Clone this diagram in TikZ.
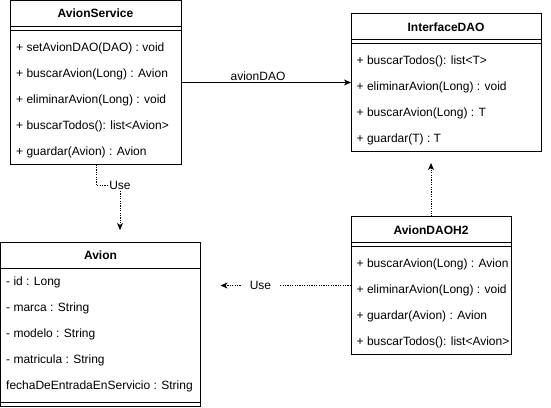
\documentclass[tikz,border=0pt]{standalone}
\usepackage{fontspec}
\setmainfont{Liberation Sans}
\usetikzlibrary{arrows.meta}
\begin{document}
\begin{tikzpicture}[x=1pt,y=-1pt,
  font=\fontsize{12}{14}\selectfont,
  classbox/.style={draw, line width=1pt, fill=white, inner sep=0pt, outer sep=0pt, anchor=north west},
  classtitle/.style={font=\fontsize{12}{14}\selectfont\bfseries, anchor=base, inner sep=0pt},
  member/.style={anchor=base west, inner sep=0pt},
  sepline/.style={line width=1pt},
  tip/.style={-{Stealth[length=7pt,width=6pt,inset=2pt]}},
  assoc/.style={line width=1pt, tip},
  dep/.style={line width=1pt, dash pattern=on 1.2pt off 1.2pt, tip},
  lbl/.style={fill=white, inner sep=1pt, anchor=center}]
\useasboundingbox (0,0) rectangle (551,407);

% ---------- AvionService ----------
\node[classbox, minimum width=171pt, minimum height=164pt] (svc) at (10.5,0.5) {};
\node[classtitle] (svcT) at (95.5,17.5) {AvionService};
\draw[sepline] ([yshift=-26pt]svc.north west) -- ([yshift=-26pt]svc.north east);
\draw[sepline] ([yshift=-30pt]svc.north west) -- ([yshift=-30pt]svc.north east);
\node[member] (svc1) at (16,51) {+ setAvionDAO(DAO) : void};
\node[member] (svc2) at (16,77) {+ buscarAvion(Long) : Avion};
\node[member] (svc3) at (16,103) {+ eliminarAvion(Long) : void};
\node[member] (svc4) at (16,129) {+ buscarTodos(): list<Avion>};
\node[member] (svc5) at (16,155) {+ guardar(Avion) : Avion};

% ---------- InterfaceDAO ----------
\node[classbox, minimum width=190pt, minimum height=138pt] (iface) at (351,13.5) {};
\node[classtitle] (ifaceT) at (446,31) {InterfaceDAO};
\draw[sepline] ([yshift=-26pt]iface.north west) -- ([yshift=-26pt]iface.north east);
\draw[sepline] ([yshift=-30pt]iface.north west) -- ([yshift=-30pt]iface.north east);
\node[member] (if1) at (356.5,64.5) {+ buscarTodos(): list<T>};
\node[member] (if2) at (356.5,90.5) {+ eliminarAvion(Long) : void};
\node[member] (if3) at (356.5,116.5) {+ buscarAvion(Long) : T};
\node[member] (if4) at (356.5,142.5) {+ guardar(T) : T};

% ---------- AvionDAOH2 ----------
\node[classbox, minimum width=160pt, minimum height=138pt] (dao) at (351,216.5) {};
\node[classtitle] (daoT) at (431,234) {AvionDAOH2};
\draw[sepline] ([yshift=-26pt]dao.north west) -- ([yshift=-26pt]dao.north east);
\draw[sepline] ([yshift=-30pt]dao.north west) -- ([yshift=-30pt]dao.north east);
\node[member] (dao1) at (356.5,267.5) {+ buscarAvion(Long) : Avion};
\node[member] (dao2) at (356.5,293.5) {+ eliminarAvion(Long) : void};
\node[member] (dao3) at (356.5,319.5) {+ guardar(Avion) : Avion};
\node[member] (dao4) at (356.5,345.5) {+ buscarTodos(): list<Avion>};

% ---------- Avion ----------
\node[classbox, minimum width=200pt, minimum height=164pt] (avion) at (0.5,242.5) {};
\node[classtitle] (avionT) at (100.5,259.5) {Avion};
\draw[sepline] ([yshift=-26pt]avion.north west) -- ([yshift=-26pt]avion.north east);
\draw[sepline] ([yshift=-160pt]avion.north west) -- ([yshift=-160pt]avion.north east);
\node[member] (av1) at (6,285.5) {- id : Long};
\node[member] (av2) at (6,311.5) {- marca : String};
\node[member] (av3) at (6,337.5) {- modelo : String};
\node[member] (av4) at (6,363.5) {- matricula : String};
\node[member] (av5) at (6,389.5) {fechaDeEntradaEnServicio : String};

% ---------- connectors ----------
\draw[assoc] (svc.east) -- (iface.west |- svc.east);
\node[anchor=base, inner sep=0pt] (assocL) at (258,80) {avionDAO};

\coordinate (useTipA) at (120,230);
\coordinate (bendA) at (120,185);
\draw[dep] (svc.south) |- (bendA) -- (useTipA);
\node[lbl] (useA) at (bendA) {Use};

\coordinate (useTipB) at (220.5,285.5);
\draw[dep] (dao.west) -- (useTipB);
\node[lbl, inner xsep=9pt] (useB) at (260.5,285.5) {Use};

\coordinate (implTip) at (431,163);
\draw[dep] (dao.north) -- (implTip);
\end{tikzpicture}
\end{document}
